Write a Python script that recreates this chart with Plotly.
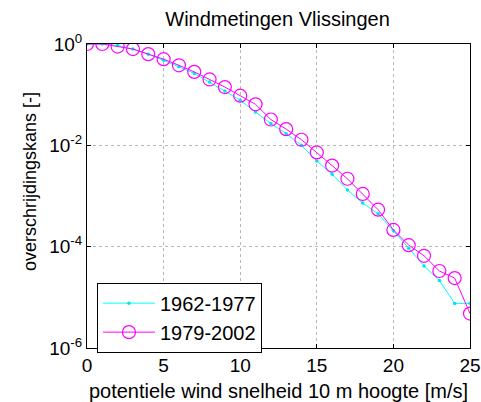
import plotly.graph_objects as go

wind = list(range(26))
p_1962 = [0.0, 0.0, -0.03, -0.10, -0.20, -0.32, -0.45, -0.58, -0.75, -0.93, -1.11, -1.34, -1.57,
          -1.77, -2.00, -2.31, -2.57, -2.88, -3.14, -3.35, -3.68, -4.03, -4.38, -4.67, -5.12, -5.12]
p_1979 = [0.0, 0.0, -0.05, -0.10, -0.20, -0.30, -0.42, -0.55, -0.70, -0.85, -1.02, -1.19, -1.49,
          -1.68, -1.89, -2.14, -2.40, -2.66, -2.96, -3.27, -3.67, -3.97, -4.18, -4.48, -4.62, -5.32]
y_1962 = [10 ** v for v in p_1962]
y_1979 = [10 ** v for v in p_1979]

ytick_vals = [1, 1e-2, 1e-4, 1e-6]
ytick_text = ["10<sup>0</sup>", "10<sup>-2</sup>", "10<sup>-4</sup>", "10<sup>-6</sup>"]
xtick_vals = [0, 5, 10, 15, 20, 25]

font = "Liberation Sans, Arial, sans-serif"

fig = go.Figure()
fig.add_trace(go.Scatter(x=wind, y=y_1962, mode="lines+markers", name="1962-1977",
                         line=dict(color="#00FFFF", width=1),
                         marker=dict(symbol="circle", size=3.5, color="#00E5E5")))
fig.add_trace(go.Scatter(x=wind, y=y_1979, mode="lines+markers", name="1979-2002",
                         line=dict(color="#FF00FF", width=1),
                         marker=dict(symbol="circle-open", size=13, color="#FF00FF",
                                     line=dict(width=1.2))))

fig.update_layout(
    width=481, height=402,
    margin=dict(l=87, r=11, t=44, b=54, autoexpand=False),
    paper_bgcolor="white", plot_bgcolor="white",
    font=dict(family=font, size=18, color="black"),
    title=dict(text="Windmetingen Vlissingen", x=0.577, xanchor="center", y=0.953, yanchor="middle",
               font=dict(size=20)),
    showlegend=True,
    legend=dict(x=0.026, y=0.215, xanchor="left", yanchor="top",
                bordercolor="black", borderwidth=1, bgcolor="white",
                font=dict(size=20), itemwidth=52, tracegroupgap=0),
    annotations=[dict(text="overschrijdingskans [-]", textangle=-90, xref="paper", yref="paper",
                      x=-0.149, y=0.549, xanchor="center", yanchor="middle", showarrow=False,
                      font=dict(size=18))],
)
fig.update_xaxes(range=[0, 25], tickvals=xtick_vals, showline=True, linecolor="black", mirror="ticks",
                 ticks="inside", ticklen=4, tickcolor="black", automargin=False,
                 showgrid=True, gridcolor="#b8b8b8", griddash="dot", gridwidth=1, zeroline=False,
                 title=dict(text="potentiele wind snelheid 10 m hoogte [m/s]", standoff=13,
                            font=dict(size=20)),
                 tickfont=dict(size=19))
fig.update_yaxes(type="log", range=[-6, 0], tickvals=ytick_vals, ticktext=ytick_text,
                 showline=True, linecolor="black", mirror="ticks", automargin=False,
                 ticks="inside", ticklen=4, tickcolor="black",
                 showgrid=True, gridcolor="#b8b8b8", griddash="dot", gridwidth=1, zeroline=False,
                 tickfont=dict(size=19))

fig.write_html("out.html")
